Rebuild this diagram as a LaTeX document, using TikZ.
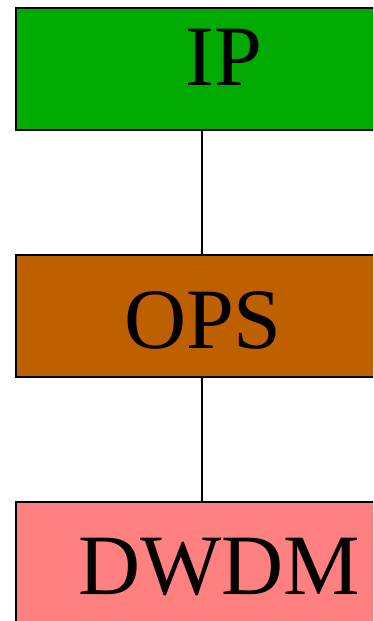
\documentclass[tikz,border=0pt]{standalone}
\usepackage{fontspec}
\setmainfont{Liberation Serif}
\definecolor{ipgreen}{RGB}{0,170,0}
\definecolor{opsorange}{RGB}{191,96,0}
\definecolor{dwdmpink}{RGB}{255,128,128}
\begin{document}
\begin{tikzpicture}[x=1pt,y=-1pt,
  layerbox/.style={draw=black,line width=2pt,rectangle,minimum width=372pt,minimum height=122pt,inner sep=0pt,outer sep=0pt},
  layertext/.style={anchor=base west,inner sep=0pt,outer sep=0pt,font=\fontsize{86}{86}\selectfont},
  link/.style={draw=black,line width=2pt}]
\clip (0,0) rectangle (373,621);
\useasboundingbox (0,0) rectangle (373,621);
\node[layerbox,fill=ipgreen] (ip) at (202,69) {};
\node[layerbox,fill=opsorange] (ops) at (202,316) {};
\node[layerbox,fill=dwdmpink] (dwdm) at (202,563) {};
\node[layertext] (iptext) at (185.5,85) {IP};
\node[layertext] (opstext) at (124,348) {OPS};
\node[layertext] (dwdmtext) at (78.6,594) {DWDM};
\draw[link] (ip.south) -- (ops.north);
\draw[link] (ops.south) -- (dwdm.north);
\end{tikzpicture}
\end{document}
